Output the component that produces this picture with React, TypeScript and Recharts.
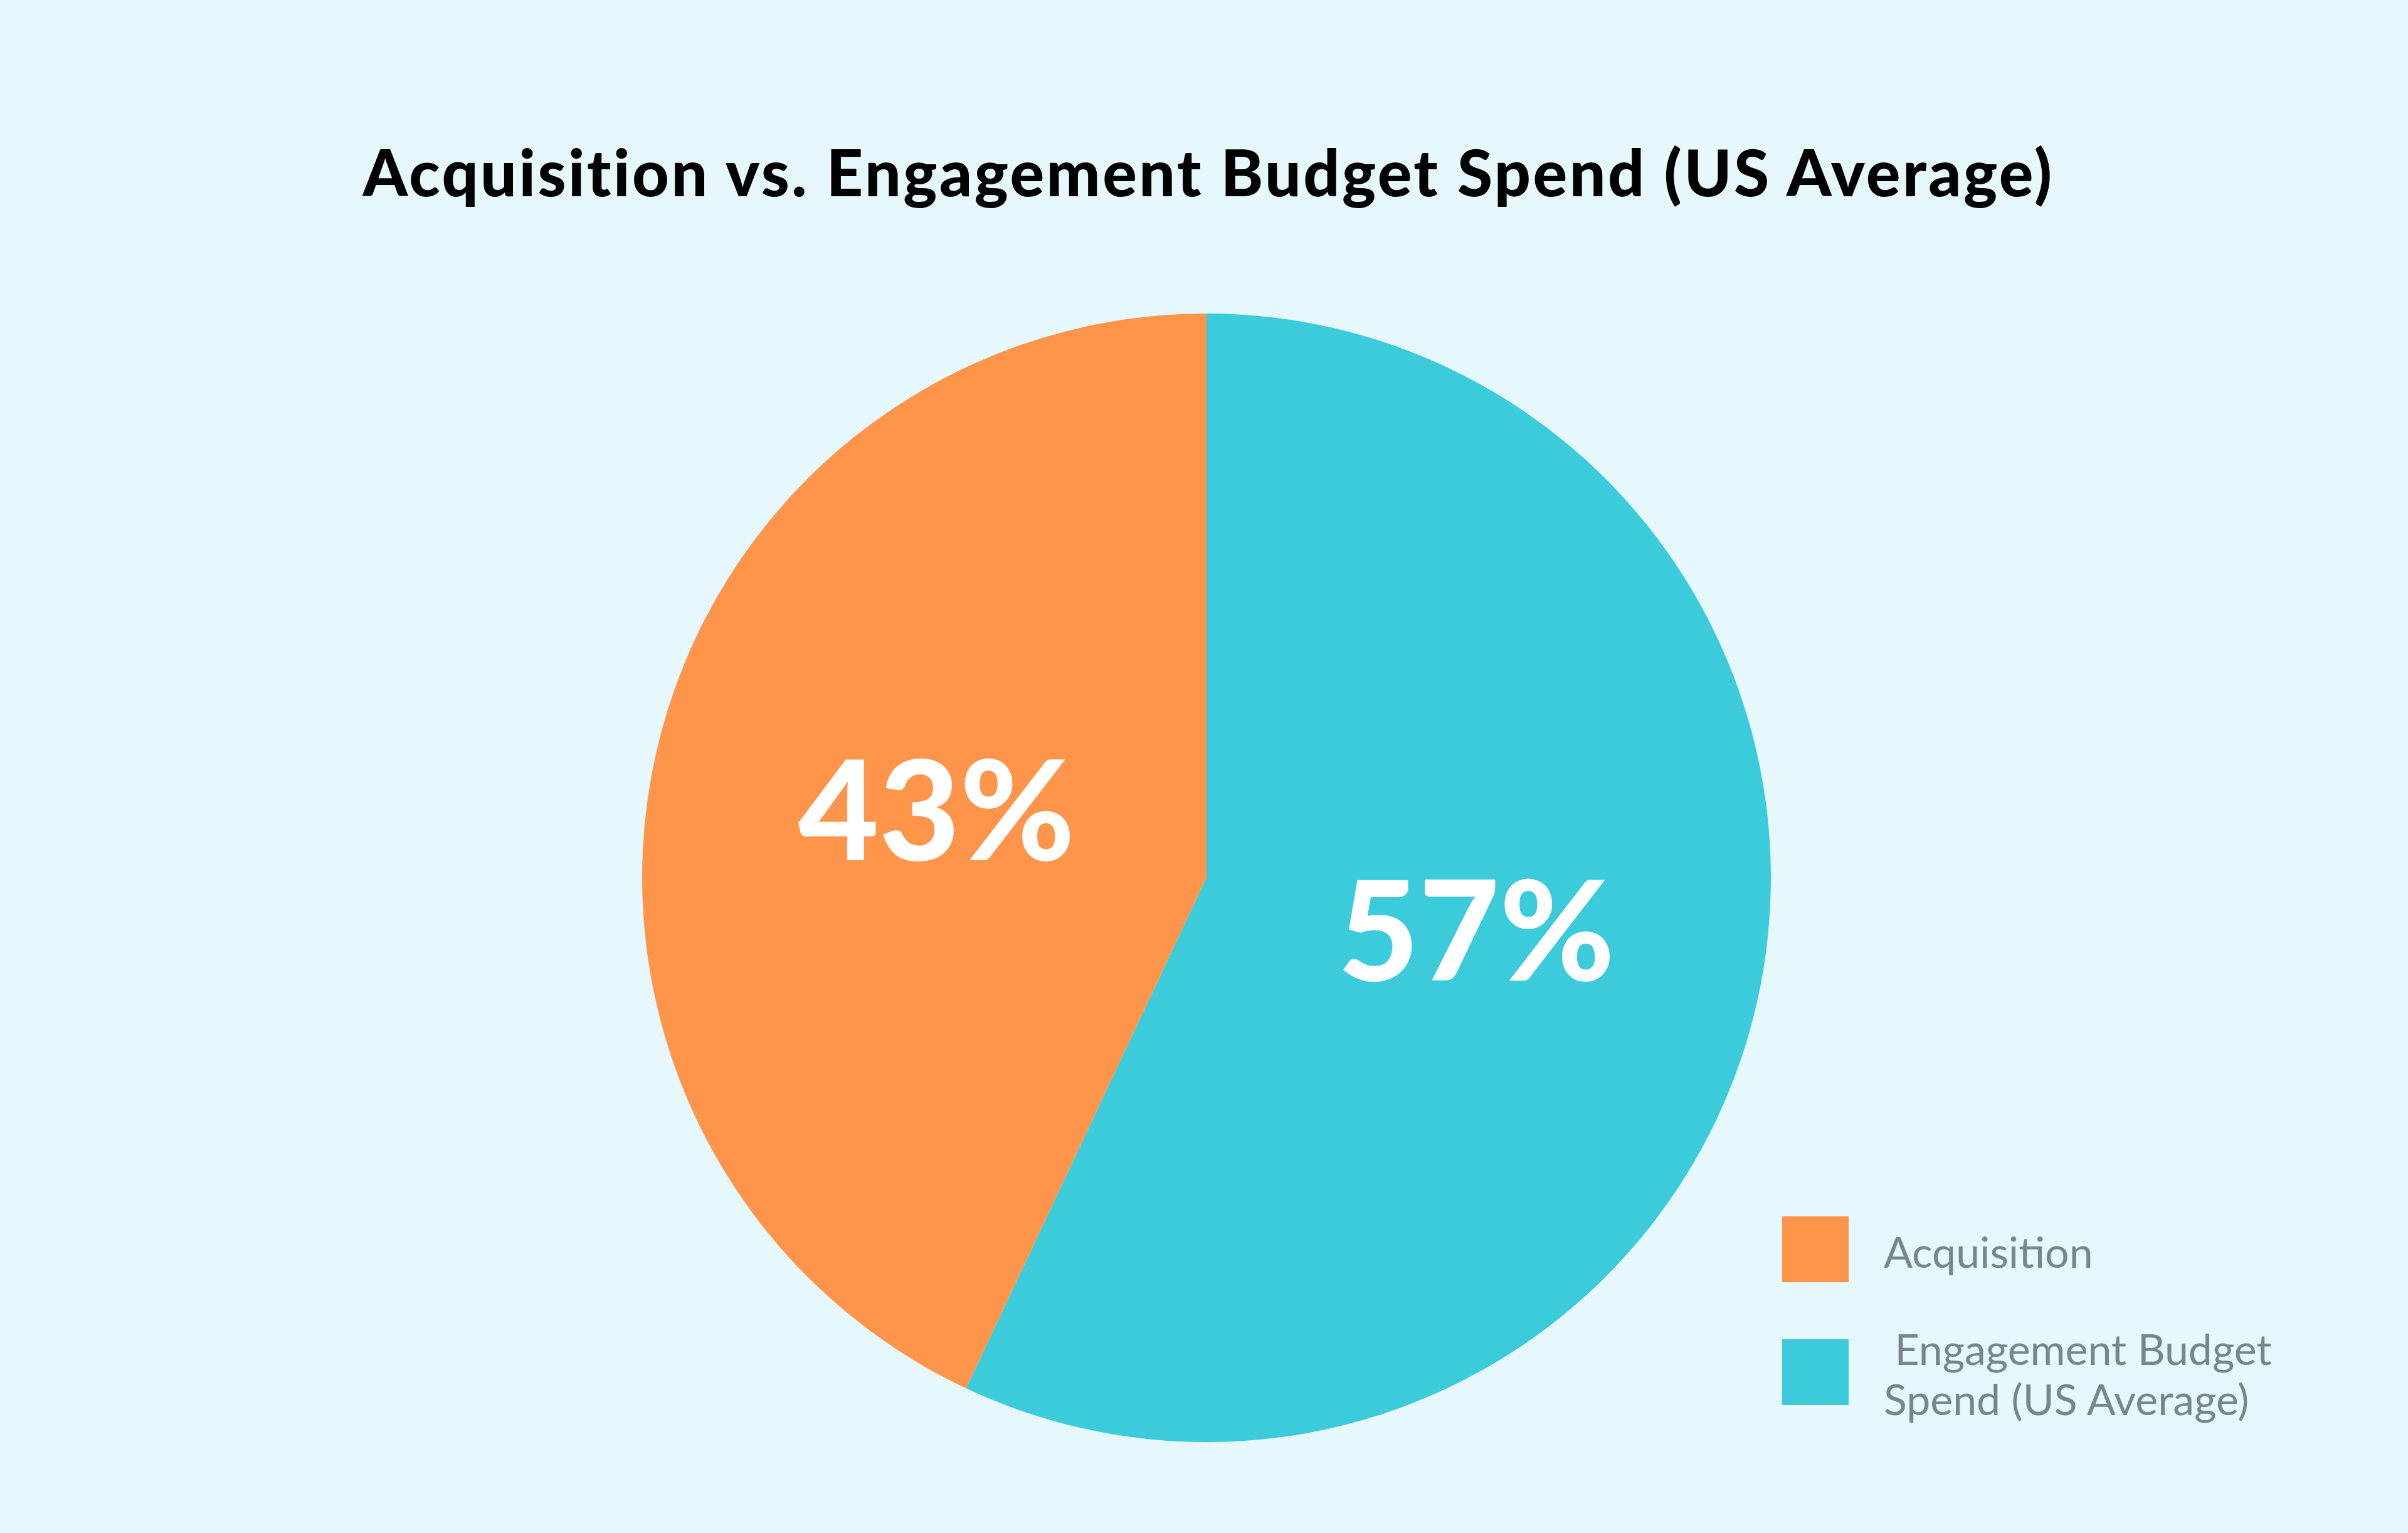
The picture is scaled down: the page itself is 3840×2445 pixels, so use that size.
import { Legend, Pie, PieChart, Cell } from "recharts";

const categories = ["Acquisition", " Engagement Budget Spend (US Average)"];
const shares = [43, 57];
const colors = ["#FF944B", "#3BCBDB"];

const data = categories.map((name, i) => ({ name, value: shares[i] }));

const RADIAN = Math.PI / 180;

function SliceLabel({ cx, cy, midAngle, outerRadius, value }: any) {
  const r = outerRadius * 0.49;
  const x = cx + r * Math.cos(-midAngle * RADIAN);
  const y = cy + r * Math.sin(-midAngle * RADIAN);
  return (
    <text
      x={x}
      y={y}
      dy={-18}
      fill="#FFFFFF"
      textAnchor="middle"
      dominantBaseline="central"
      fontFamily="Lato, 'Open Sans', sans-serif"
      fontWeight={900}
      fontSize={222}
    >
      {`${value}%`}
    </text>
  );
}

function LegendBox({ payload }: any) {
  const items = [...(payload || [])].sort(
    (a: any, b: any) => categories.indexOf(a.value) - categories.indexOf(b.value)
  );
  return (
    <div style={{ display: "flex", flexDirection: "column", gap: 60 }}>
      {items.map((entry: any) => (
        <div key={entry.value} style={{ display: "flex", alignItems: "center" }}>
          <div style={{ width: 106, height: 105, background: entry.color, flexShrink: 0 }} />
          <div
            style={{
              marginLeft: 56,
              marginTop: 6,
              width: 720,
              whiteSpace: "pre-wrap",
              fontFamily: "Lato, sans-serif",
              fontSize: 68,
              lineHeight: "80px",
              color: "#76868A"
            }}
          >
            {entry.value}
          </div>
        </div>
      ))}
    </div>
  );
}

export default function App() {
  return (
    <div style={{ position: "absolute", left: 0, top: 0, width: 3840, height: 2445, background: "#E6F8FB" }}>
      <div
        style={{
          position: "absolute",
          left: 0,
          top: 214,
          width: 3854,
          textAlign: "center",
          fontFamily: "Lato, sans-serif",
          fontWeight: 900,
          fontSize: 102,
          letterSpacing: 3.5,
          lineHeight: "120px",
          color: "#000000"
        }}
      >
        Acquisition vs. Engagement Budget Spend (US Average)
      </div>
      <PieChart width={3840} height={2445} style={{ position: "absolute", left: 0, top: 0 }}>
        <Pie
          data={data}
          dataKey="value"
          nameKey="name"
          cx={1919}
          cy={1395}
          outerRadius={900}
          startAngle={90}
          endAngle={450}
          stroke="none"
          labelLine={false}
          label={SliceLabel}
          isAnimationActive={false}
        >
          {data.map((entry, i) => (
            <Cell key={entry.name} fill={colors[i]} />
          ))}
        </Pie>
        <Legend
          layout="vertical"
          content={LegendBox}
          wrapperStyle={{ left: 2842, top: 1940, width: 900, right: "auto", bottom: "auto" }}
        />
      </PieChart>
    </div>
  );
}
